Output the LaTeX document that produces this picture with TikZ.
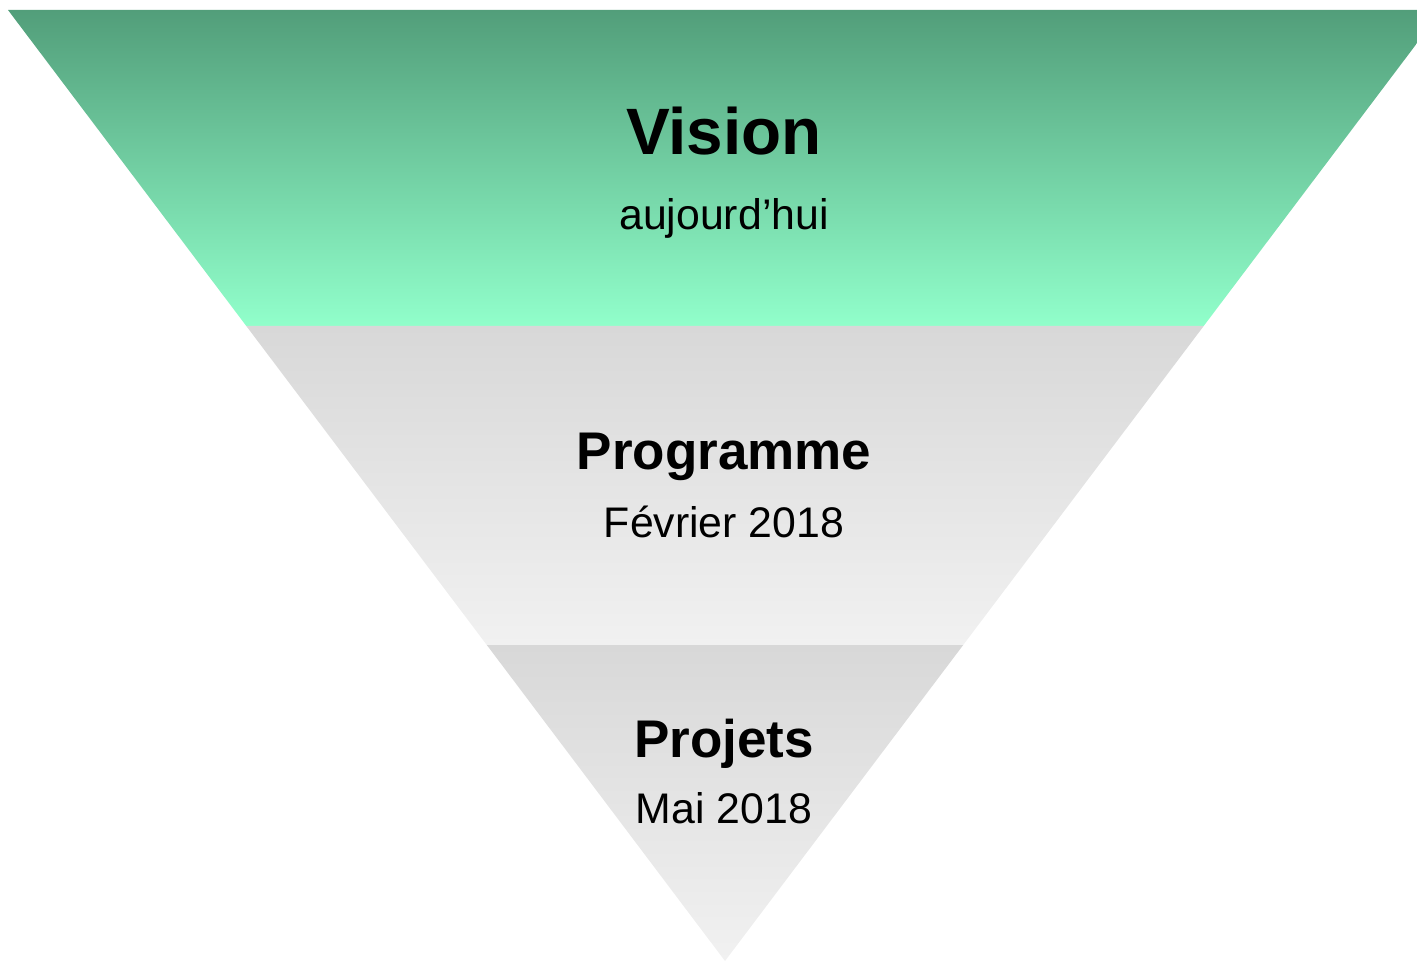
\documentclass[tikz,border=0pt]{standalone}
\usepackage{fontspec}
\setmainfont{Liberation Sans}
\usepackage{tikz}
\usetikzlibrary{calc}

\definecolor{visiontop}{HTML}{529E7A}
\definecolor{visionbot}{HTML}{91FFCB}
\definecolor{graytop}{HTML}{D8D8D8}
\definecolor{graybot}{HTML}{F1F1F1}

\begin{document}
\begin{tikzpicture}[x=0.5pt,y=-0.5pt,
        title/.style={font=\bfseries\fontsize{26.5pt}{30pt}\selectfont, anchor=base, inner sep=0pt},
        subtitle/.style={font=\fontsize{21.4pt}{25pt}\selectfont, anchor=base, inner sep=0pt}]
        \useasboundingbox (0,0) rectangle (1417,961);
        \clip (0,0) rectangle (1417,961);

        \coordinate (tl) at (8,10);
        \coordinate (tr) at (1442,10);
        \coordinate (ml) at (246.3,326);
        \coordinate (mr) at (1203.7,326);
        \coordinate (bl) at (486.8,645);
        \coordinate (br) at (963.2,645);
        \coordinate (apex) at (725,961);

        \shade[top color=visiontop, bottom color=visionbot] (tl) -- (tr) -- (mr) -- (ml) -- cycle;
        \shade[top color=graytop, bottom color=graybot] (ml) -- (mr) -- (br) -- (bl) -- cycle;
        \shade[top color=graytop, bottom color=graybot] (bl) -- (br) -- (apex) -- cycle;

        \node[title, font=\bfseries\fontsize{32.8pt}{36pt}\selectfont] (vision) at (724,155) {Vision};
        \node[subtitle] (today) at (724,230) {aujourd’hui};
        \node[title] (programme) at (724,470) {Programme};
        \node[subtitle] (feb) at (724,538) {Février 2018};
        \node[title] (projets) at (724,757) {Projets};
        \node[subtitle] (mai) at (724,823) {Mai 2018};
    \end{tikzpicture}
\end{document}
